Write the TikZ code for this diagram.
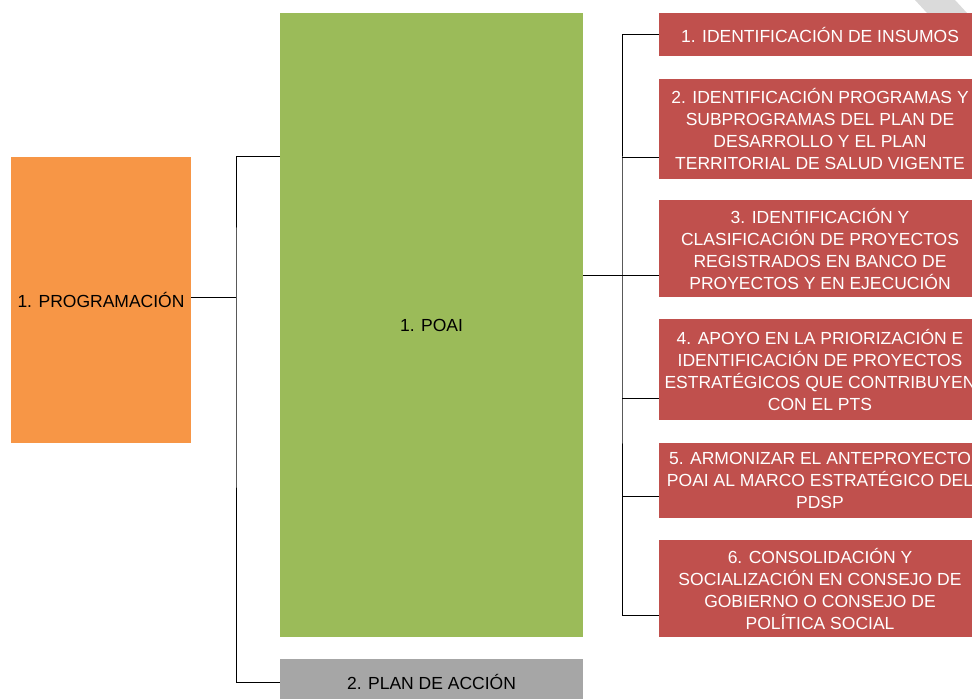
\documentclass[tikz,border=0pt]{standalone}
\usepackage{fontspec}
\setmainfont{Liberation Sans}
\definecolor{progorange}{HTML}{F79646}
\definecolor{poaigreen}{HTML}{9BBB59}
\definecolor{stepred}{HTML}{C0504D}
\definecolor{plangray}{HTML}{A6A6A6}
\definecolor{cornergray}{HTML}{DADADA}
\tikzset{
  box/.style={inner sep=0pt, align=center,
              font=\fontsize{12.45}{15.65}\selectfont},
  stepbox/.style={box, fill=stepred, text=white, minimum width=8.05cm},
  link/.style={draw=black, line width=0.7pt}
}
\begin{document}
\begin{tikzpicture}[x=0.025cm,y=-0.025cm]
  \useasboundingbox (0,0) rectangle (972,698);
  \clip (0,0) rectangle (972,698);
  \fill[cornergray] (915,0) -- (955,0) -- (967,13) -- (927,13) -- cycle;

  % left column
  \node[box, fill=progorange, minimum width=4.5cm, minimum height=7.15cm]
       (prog) at (101,300) {1. PROGRAMACIÓN};

  % middle column
  \node[box, fill=poaigreen, minimum width=7.575cm, minimum height=15.6cm]
       (poai) at (431.5,325) {1. POAI};
  \node[box, fill=plangray, minimum width=7.575cm, minimum height=1.15cm]
       (plan) at (431.5,682) {2. PLAN DE ACCIÓN};

  % steps of the POAI
  \node[stepbox, minimum height=1.075cm] (s1) at (820,34.5)
       {1. IDENTIFICACIÓN DE INSUMOS};
  \node[stepbox, minimum height=2.5cm] (s2) at (820,129)
       {2. IDENTIFICACIÓN PROGRAMAS Y\\SUBPROGRAMAS DEL PLAN DE\\DESARROLLO Y EL PLAN\\TERRITORIAL DE SALUD VIGENTE};
  \node[stepbox, minimum height=2.425cm] (s3) at (820,248.5)
       {3. IDENTIFICACIÓN Y\\CLASIFICACIÓN DE PROYECTOS\\REGISTRADOS EN BANCO DE\\PROYECTOS Y EN EJECUCIÓN};
  \node[stepbox, minimum height=2.525cm] (s4) at (820,369.5)
       {4. APOYO EN LA PRIORIZACIÓN E\\IDENTIFICACIÓN DE PROYECTOS\\ESTRATÉGICOS QUE CONTRIBUYEN\\CON EL PTS};
  \node[stepbox, minimum height=1.875cm] (s5) at (820,480.5)
       {5. ARMONIZAR EL ANTEPROYECTO\\POAI AL MARCO ESTRATÉGICO DEL\\PDSP};
  \node[stepbox, minimum height=2.425cm] (s6) at (820,588.5)
       {6. CONSOLIDACIÓN Y\\SOCIALIZACIÓN EN CONSEJO DE\\GOBIERNO O CONSEJO DE\\POLÍTICA SOCIAL};

  % connectors
  \coordinate (trunk) at (236,297);
  \coordinate (bus) at (622,275);
  \draw[link] (prog.east |- trunk) -- (trunk);
  \draw[link] (poai.west |- prog.north) -| (trunk) |- (plan.west);
  \draw[link] (poai.east |- bus) -- (bus);
  \draw[link] ([yshift=0.54cm]s1.south west) -| (bus)
              |- ([yshift=0.55cm]s6.south west);
  \foreach \i in {2,...,5}
    \draw[link] ([yshift=0.55cm]s\i.south west) -- ++(-37,0);
\end{tikzpicture}
\end{document}
